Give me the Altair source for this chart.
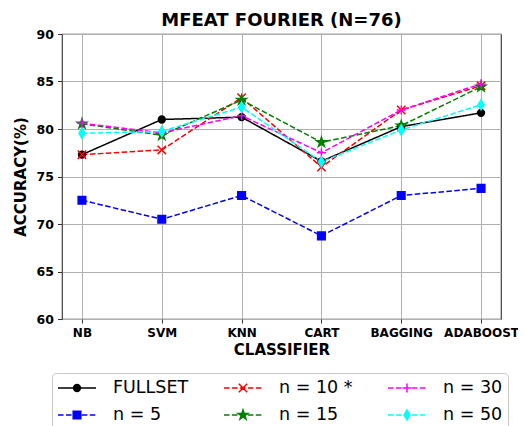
import math
import altair as alt
import pandas as pd

# ---------------- data ----------------
classifiers = ["NB", "SVM", "KNN", "CART", "BAGGING", "ADABOOST"]
series_names = ["FULLSET", "n = 5", "n = 10 *", "n = 15", "n = 30", "n = 50"]
fullset = [77.3, 81.0, 81.25, 76.6, 80.25, 81.7]
n5 = [72.5, 70.5, 73.0, 68.75, 73.0, 73.75]
n10 = [77.3, 77.8, 83.3, 76.0, 82.0, 84.55]
n15 = [80.55, 79.35, 83.05, 78.6, 80.35, 84.45]
n30 = [80.6, 79.6, 81.4, 77.5, 82.0, 84.75]
n50 = [79.55, 79.75, 82.3, 76.55, 79.9, 82.55]
series_values = [fullset, n5, n10, n15, n30, n50]
colors = ["black", "blue", "red", "green", "magenta", "cyan"]
y_ticks = [60, 65, 70, 75, 80, 85, 90]

rows = []
for k, (name, vals) in enumerate(zip(series_names, series_values)):
    for c, v in zip(classifiers, vals):
        rows.append({"series": name, "classifier": c, "accuracy": v, "k": k})
df = pd.DataFrame(rows)

# ---------------- marker paths ----------------
def f(v):
    return f"{v:.4f}"

def circle(s):
    r = 0.85 * s
    return f"M{f(-r)},0A{f(r)},{f(r)},0,1,1,{f(r)},0A{f(r)},{f(r)},0,1,1,{f(-r)},0Z"

def square(s):
    h = 0.95 * s
    return f"M{f(-h)},{f(-h)}H{f(h)}V{f(h)}H{f(-h)}Z"

def xmark(s):
    h = 1.05 * s
    return f"M{f(-h)},{f(-h)}L{f(h)},{f(h)}M{f(-h)},{f(h)}L{f(h)},{f(-h)}"

def star(s):
    ro = 1.25 * s
    ri = ro * 0.381966
    pts = []
    for i in range(10):
        r = ro if i % 2 == 0 else ri
        a = -math.pi / 2 + i * math.pi / 5
        pts.append((r * math.cos(a), r * math.sin(a)))
    return "M" + "L".join(f"{f(x)},{f(y)}" for x, y in pts) + "Z"

def plus(s):
    h = 1.15 * s
    return f"M{f(-h)},0H{f(h)}M0,{f(-h)}V{f(h)}"

def thin_diamond(s):
    w = 0.75 * s
    h = 1.25 * s
    return f"M0,{f(-h)}L{f(w)},0L0,{f(h)}L{f(-w)},0Z"

markers = [circle, square, xmark, star, plus, thin_diamond]

POINT_SIZE = 64          # unit = 4 px
LEG_SIZE = 38 * 38       # unit = 19 px
leg_scale = 4.0 / 19.0

def line_part(dashed):
    if not dashed:
        return "M-1,0H1"
    on, off = 5.55 / 19.0, 2.4 / 19.0
    out = []
    x = -1.0
    while x < 1.0:
        e = min(x + on, 1.0)
        out.append(f"M{f(x)},0H{f(e)}")
        x = e + off
    return "".join(out)

point_paths = [m(1.0) for m in markers]
legend_paths = [line_part(i != 0) + m(leg_scale) for i, m in enumerate(markers)]

dash_range = [[1, 0]] + [[5.55, 2.4]] * 5

# ---------------- encodings ----------------
x_enc = alt.X(
    "classifier:N",
    sort=classifiers,
    scale=alt.Scale(type="point", domain=classifiers, padding=0.25),
    axis=alt.Axis(
        title="CLASSIFIER", labelAngle=0, labelFontWeight="bold", labelFontSize=12,
        titleFontSize=15, titleFontWeight="bold", grid=True, gridColor="#b0b0b0",
        gridWidth=1, tickSize=4, tickColor="#333333", labelPadding=4, titlePadding=4,
        domain=False, labelColor="black", titleColor="black",
    ),
)
y_enc = alt.Y(
    "accuracy:Q",
    scale=alt.Scale(domain=[60, 90], nice=False, zero=False),
    axis=alt.Axis(
        values=y_ticks, title="ACCURACY(%)", labelFontWeight="bold", labelFontSize=12.5,
        titleFontSize=15, titleFontWeight="bold", grid=True, gridColor="#b0b0b0",
        gridWidth=1, tickSize=4.5, tickColor="#333333", labelPadding=4, titlePadding=8,
        domain=False, labelColor="black", titleColor="black",
    ),
)

base = alt.Chart(df)

lines = base.mark_line(strokeWidth=1.5).encode(
    x=x_enc,
    y=y_enc,
    color=alt.Color("series:N", scale=alt.Scale(domain=series_names, range=colors), legend=None),
    strokeDash=alt.StrokeDash("series:N", scale=alt.Scale(domain=series_names, range=dash_range), legend=None),
)

points = base.mark_point(filled=True, size=POINT_SIZE, strokeWidth=1.5, opacity=1).encode(
    x=x_enc,
    y=y_enc,
    color=alt.Color("series:N", scale=alt.Scale(domain=series_names, range=colors), legend=None),
    stroke=alt.Stroke("series:N", scale=alt.Scale(domain=series_names, range=colors), legend=None),
    shape=alt.Shape("series:N", scale=alt.Scale(domain=series_names, range=point_paths), legend=None),
    order=alt.Order("k:Q"),
)

leg = alt.Legend(
    title=None, orient="none", legendX=-10, legendY=339, columns=3,
    symbolSize=LEG_SIZE, symbolStrokeWidth=1.5, labelFontSize=17.5, labelOffset=16,
    labelFont="DejaVu Sans", labelColor="black", clipHeight=20, rowPadding=7,
    columnPadding=34, padding=5, strokeColor="#c8c8c8", fillColor="white",
    cornerRadius=4, symbolOpacity=1, labelLimit=300,
)

legend_layer = base.mark_point(filled=True, size=POINT_SIZE, opacity=0).encode(
    x=x_enc,
    y=y_enc,
    color=alt.Color("series:N", scale=alt.Scale(domain=series_names, range=colors), legend=leg),
    stroke=alt.Stroke("series:N", scale=alt.Scale(domain=series_names, range=colors), legend=leg),
    shape=alt.Shape("series:N", scale=alt.Scale(domain=series_names, range=legend_paths), legend=leg),
)

chart = (
    alt.layer(lines, points, legend_layer)
    .resolve_scale(color="independent", stroke="independent", shape="independent", strokeDash="independent")
    .properties(
        width=439,
        height=285,
        title=alt.Title(
            "MFEAT FOURIER (N=76)", fontSize=18, font="DejaVu Sans", fontWeight="bold",
            anchor="middle", offset=-2, color="black",
        ),
        autosize=alt.AutoSizeParams(type="none"),
        padding={"left": 54, "top": 26, "right": 17, "bottom": 107},
    )
    .configure(font="DejaVu Sans")
    .configure_view(stroke="#404040", strokeWidth=1.2)
)

chart.save("out.html", embed_options={"renderer": "svg", "actions": False})
